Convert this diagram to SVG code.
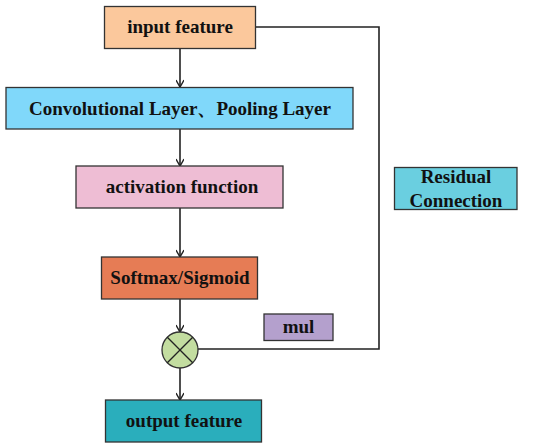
<svg xmlns="http://www.w3.org/2000/svg" width="550" height="448" viewBox="0 0 550 448">
<style>
.box{stroke:#333;stroke-width:1.3}
.t{font-family:"Liberation Serif","Times New Roman",serif;font-weight:bold;font-size:19px;fill:#111;text-anchor:middle}
.c{fill:none;stroke:#222;stroke-width:1.6}
</style>
<defs>
<marker id="ah" markerWidth="10" markerHeight="8" refX="8" refY="4" orient="auto" markerUnits="userSpaceOnUse">
<path d="M1,0 L8,4 L1,8" fill="none" stroke="#222" stroke-width="1.4"/>
</marker>
</defs>
<rect width="550" height="448" fill="#fff"/>
<g id="connectors">
<line class="c" x1="180" y1="48" x2="180" y2="87" marker-end="url(#ah)"/>
<line class="c" x1="180" y1="129" x2="180" y2="166" marker-end="url(#ah)"/>
<line class="c" x1="180" y1="208" x2="180" y2="257" marker-end="url(#ah)"/>
<line class="c" x1="180" y1="299" x2="180" y2="332" marker-end="url(#ah)"/>
<line class="c" x1="180" y1="368" x2="180" y2="400" marker-end="url(#ah)"/>
<polyline class="c" points="249,27 379,27 379,349 198,349"/>
</g>
<g id="input">
<rect class="box" x="104.5" y="6.5" width="151" height="42" fill="#FBC89C"/>
<text class="t" x="180" y="33">input feature</text>
</g>
<g id="conv">
<rect class="box" x="6" y="87.5" width="347" height="41.5" fill="#80D8FA"/>
<text class="t" x="180" y="115">Convolutional Layer、Pooling Layer</text>
</g>
<g id="activation">
<rect class="box" x="76" y="166" width="207" height="42" fill="#EEBDD4"/>
<text class="t" x="182" y="193">activation function</text>
</g>
<g id="softmax">
<rect class="box" x="101.5" y="257" width="156" height="42" fill="#E67C55"/>
<text class="t" x="180" y="284">Softmax/Sigmoid</text>
</g>
<g id="residual">
<rect class="box" x="394.5" y="167.5" width="122.5" height="42" fill="#6ACFE0"/>
<text class="t" x="456" y="182.5">Residual</text>
<text class="t" x="456" y="206.5">Connection</text>
</g>
<g id="mul">
<rect class="box" x="264" y="314" width="69" height="26.5" fill="#B4A0CD"/>
<text class="t" x="298.5" y="333">mul</text>
</g>
<g id="multiply">
<circle class="box" cx="180" cy="350" r="18" fill="#C3DDA0"/>
<line x1="167.3" y1="337.3" x2="192.7" y2="362.7" stroke="#222" stroke-width="1.3"/>
<line x1="192.7" y1="337.3" x2="167.3" y2="362.7" stroke="#222" stroke-width="1.3"/>
</g>
<g id="output">
<rect class="box" x="105.5" y="400" width="156" height="42" fill="#2AAEBC"/>
<text class="t" x="184" y="427">output feature</text>
</g>
</svg>
